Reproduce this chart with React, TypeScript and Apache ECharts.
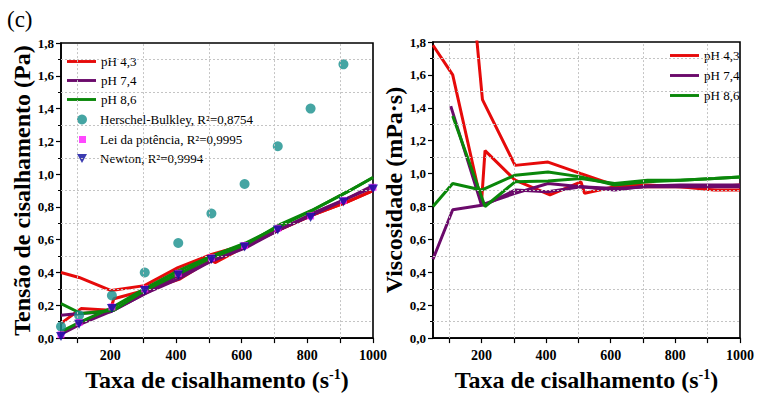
import { useEffect, useRef } from "react";
import * as echarts from "echarts";

const FONT = "'Liberation Serif', 'DejaVu Serif', serif";

const RED = "#e60a0a";
const PURPLE = "#6b0a6b";
const GREEN = "#0a870a";
const TEAL = "#178f8c";
const MAGENTA = "#ff1aff";
const NAVY = "#0a0a9c";

// Axis ticks / labels / grid positions
const xTickValues = [100, 200, 300, 400, 500, 600, 700, 800, 900, 1000];
const xLabelValues = [200, 400, 600, 800, 1000];
const xGridValues = [100, 300, 500, 700, 900];
const yGridValues = [0.1, 0.3, 0.5, 0.7, 0.9, 1.1, 1.3, 1.5, 1.7];

// Shear stress (Pa) vs shear rate (1/s)
const stRateRedA = [50, 111, 200, 211, 304, 412, 508, 519, 612, 714, 815, 920, 1000];
const stRedA = [0.09, 0.18, 0.17, 0.24, 0.29, 0.36, 0.48, 0.46, 0.56, 0.66, 0.75, 0.83, 0.9];
const stRateRedB = [50, 105, 203, 304, 406, 508, 612, 714, 815, 920, 1000];
const stRedB = [0.4, 0.37, 0.29, 0.32, 0.43, 0.51, 0.57, 0.66, 0.75, 0.83, 0.9];
const stRatePurA = [50, 105, 200, 304, 406, 508, 612, 714, 815, 920, 1000];
const stPurA = [0.14, 0.15, 0.16, 0.27, 0.38, 0.47, 0.55, 0.66, 0.76, 0.85, 0.93];
const stRatePurB = [50, 111, 211, 304, 406, 508, 612, 714, 815, 920, 1000];
const stPurB = [0.024, 0.087, 0.17, 0.27, 0.36, 0.47, 0.56, 0.66, 0.75, 0.85, 0.92];
const stRateGreA = [50, 111, 200, 304, 406, 508, 612, 714, 815, 920, 1000];
const stGreA = [0.04, 0.1, 0.18, 0.3, 0.41, 0.5, 0.58, 0.68, 0.78, 0.89, 0.98];
const stRateGreB = [50, 111, 211, 304, 406, 508, 612, 714, 815, 920, 1000];
const stGreB = [0.21, 0.15, 0.17, 0.29, 0.39, 0.49, 0.57, 0.69, 0.78, 0.89, 0.98];

// Model fits
const fitRateHB = [50, 105, 205, 305, 407, 508, 609, 710, 810, 910];
const fitHB = [0.07, 0.14, 0.26, 0.4, 0.58, 0.76, 0.94, 1.17, 1.4, 1.67];
const fitRate = [50, 105, 205, 305, 407, 508, 609, 710, 810, 910, 1000];
const fitPower = [0.02, 0.095, 0.19, 0.3, 0.395, 0.49, 0.565, 0.67, 0.745, 0.84, 0.92];
const fitNewton = [0.01, 0.085, 0.18, 0.29, 0.385, 0.48, 0.555, 0.66, 0.735, 0.83, 0.91];

// Viscosity (mPa·s) vs shear rate (1/s)
const viRateRedA = [50, 111, 200, 211, 304, 412, 508, 519, 612, 714, 815, 920, 1000];
const viRedA = [1.78, 1.6, 0.82, 1.14, 0.96, 0.87, 0.95, 0.88, 0.92, 0.92, 0.92, 0.92, 0.93];
const viRateRedB = [50, 105, 203, 304, 406, 508, 612, 714, 815, 920, 1000];
const viRedB = [8.0, 3.5, 1.45, 1.05, 1.07, 1.0, 0.93, 0.93, 0.92, 0.9, 0.9];
const viRatePurA = [105, 200, 304, 406, 508, 612, 714, 815, 920, 1000];
const viPurA = [1.41, 0.81, 0.88, 0.94, 0.92, 0.9, 0.925, 0.93, 0.93, 0.93];
const viRatePurB = [50, 111, 211, 304, 406, 508, 612, 714, 815, 920, 1000];
const viPurB = [0.48, 0.78, 0.81, 0.9, 0.89, 0.92, 0.91, 0.92, 0.92, 0.92, 0.92];
const viRateGreA = [50, 111, 200, 304, 406, 508, 612, 714, 815, 920, 1000];
const viGreA = [0.8, 0.94, 0.9, 0.99, 1.01, 0.98, 0.93, 0.95, 0.96, 0.97, 0.98];
const viRateGreB = [111, 211, 304, 406, 508, 612, 714, 815, 920, 1000];
const viGreB = [1.35, 0.8, 0.95, 0.955, 0.97, 0.94, 0.96, 0.96, 0.97, 0.98];

const NAME_43 = "pH 4,3";
const NAME_74 = "pH 7,4";
const NAME_86 = "pH 8,6";
const NAME_HB = "Herschel-Bulkley, R²=0,8754";
const NAME_PW = "Lei da potência, R²=0,9995";
const NAME_NW = "Newton, R²=0,9994";

const LINE_ICON = "path://M0,0H30V3H0Z";
const SQUARE_ICON = "path://M0,0H10V10H0Z";
const DOWN_TRIANGLE_ICON = "path://M0,0H10L5,9Z";

const zip = (xs: number[], ys: number[]) => xs.map((x, i) => [x, ys[i]]);

const gridLineStyle = { type: [2, 2] as number[], color: "#c4c4c4", width: 1 };

function gridSeries(idx: number) {
  return {
    type: "line",
    xAxisIndex: idx,
    yAxisIndex: idx,
    data: [],
    z: 1,
    silent: true,
    markLine: {
      silent: true,
      symbol: ["none", "none"],
      label: { show: false },
      lineStyle: gridLineStyle,
      animation: false,
      data: [
        ...xGridValues.map((v) => ({ xAxis: v })),
        ...yGridValues.map((v) => ({ yAxis: v })),
      ],
    },
  };
}

function lineSeries(idx: number, name: string, color: string, data: number[][]) {
  return {
    type: "line",
    name,
    xAxisIndex: idx,
    yAxisIndex: idx,
    data,
    symbol: "none",
    showSymbol: false,
    clip: true,
    z: 3,
    color,
    itemStyle: { color },
    lineStyle: { color, width: 3 },
  };
}

function xAxisCfg(idx: number) {
  return {
    type: "value",
    gridIndex: idx,
    min: 50,
    max: 1000,
    axisLine: { show: true, onZero: false, lineStyle: { color: "#000", width: 1.6 } },
    axisTick: {
      show: true,
      inside: false,
      length: 5,
      customValues: xTickValues,
      lineStyle: { color: "#000", width: 1.2 },
    },
    axisLabel: {
      customValues: xLabelValues,
      margin: 10,
      fontFamily: FONT,
      fontWeight: "bold",
      fontSize: 14,
      color: "#000",
      formatter: (v: number) => String(v),
    },
    splitLine: { show: false },
    name: "Taxa de cisalhamento (s{sup|-1})",
    nameLocation: "middle",
    nameGap: 27,
    nameTextStyle: {
      fontFamily: FONT,
      fontWeight: "bold",
      fontSize: 24,
      color: "#000",
      lineHeight: 26,
      rich: {
        sup: {
          fontFamily: FONT,
          fontWeight: "bold",
          fontSize: 14,
          lineHeight: 14,
          verticalAlign: "top",
          color: "#000",
        },
      },
    },
  };
}

function yAxisCfg(idx: number, name: string, gap: number) {
  return {
    type: "value",
    gridIndex: idx,
    min: 0,
    max: 1.8,
    interval: 0.2,
    axisLine: { show: true, onZero: false, lineStyle: { color: "#000", width: 1.6 } },
    axisTick: { show: true, inside: false, length: 5, lineStyle: { color: "#000", width: 1.2 } },
    minorTick: { show: true, splitNumber: 2, length: 3, lineStyle: { color: "#000", width: 1 } },
    axisLabel: {
      margin: 7,
      fontFamily: FONT,
      fontWeight: "bold",
      fontSize: 13,
      color: "#000",
      formatter: (v: number) => v.toFixed(1).replace(".", ","),
    },
    splitLine: { show: false },
    name,
    nameLocation: "middle",
    nameGap: gap,
    nameTextStyle: { fontFamily: FONT, fontWeight: "bold", fontSize: 24, color: "#000" },
  };
}

const legendText = { fontFamily: FONT, fontSize: 13, color: "#000" };

function legendBlock(left: number, top: number, w: number, h: number, gap: number, data: any[], textPad = 0) {
  return {
    orient: "vertical",
    left,
    top,
    padding: 0,
    itemWidth: w,
    itemHeight: h,
    itemGap: gap,
    selectedMode: false,
    symbolKeepAspect: true,
    textStyle: { ...legendText, padding: [0, 0, 0, textPad] },
    data,
  };
}

export default function App() {
  const ref = useRef<HTMLDivElement>(null);

  useEffect(() => {
    if (!ref.current) return;
    const chart = echarts.init(ref.current, undefined, { renderer: "svg" });

    const option = {
      animation: false,
      backgroundColor: "#fff",
      textStyle: { fontFamily: FONT },
      graphic: [
        {
          type: "text",
          left: 7,
          top: 8,
          style: { text: "(c)", fontFamily: FONT, fontSize: 23, fill: "#000" },
        },
      ],
      grid: [
        { left: 61, top: 43, width: 312, height: 300, show: true, borderColor: "#000", borderWidth: 1.6, backgroundColor: "transparent" },
        { left: 433, top: 42, width: 310, height: 300, show: true, borderColor: "#000", borderWidth: 1.6, backgroundColor: "transparent" },
      ],
      xAxis: [xAxisCfg(0), xAxisCfg(1)],
      yAxis: [yAxisCfg(0, "Tensão de cisalhamento (Pa)", 24), yAxisCfg(1, "Viscosidade (mPa·s)", 26)],
      legend: [
        legendBlock(67, 55, 29, 3, 6, [
          { name: NAME_43, icon: LINE_ICON },
          { name: NAME_74, icon: LINE_ICON },
          { name: NAME_86, icon: LINE_ICON },
        ]),
        legendBlock(77, 113, 10, 10, 6, [{ name: NAME_HB, icon: "circle" }], 8),
        legendBlock(79, 133, 7, 7, 6, [{ name: NAME_PW, icon: SQUARE_ICON }], 9),
        legendBlock(77, 152, 10, 9, 6, [{ name: NAME_NW, icon: DOWN_TRIANGLE_ICON }], 8),
        legendBlock(670, 49, 29, 3, 7, [
          { name: NAME_43, icon: LINE_ICON },
          { name: NAME_74, icon: LINE_ICON },
          { name: NAME_86, icon: LINE_ICON },
        ]),
      ],
      series: [
        gridSeries(0),
        gridSeries(1),
        lineSeries(0, NAME_43, RED, zip(stRateRedA, stRedA)),
        lineSeries(0, NAME_43, RED, zip(stRateRedB, stRedB)),
        lineSeries(0, NAME_74, PURPLE, zip(stRatePurA, stPurA)),
        lineSeries(0, NAME_74, PURPLE, zip(stRatePurB, stPurB)),
        lineSeries(0, NAME_86, GREEN, zip(stRateGreA, stGreA)),
        lineSeries(0, NAME_86, GREEN, zip(stRateGreB, stGreB)),
        {
          type: "scatter",
          name: NAME_HB,
          xAxisIndex: 0,
          yAxisIndex: 0,
          data: zip(fitRateHB, fitHB),
          symbol: "circle",
          symbolSize: 10,
          itemStyle: { color: TEAL },
          z: 4,
        },
        {
          type: "scatter",
          name: NAME_PW,
          xAxisIndex: 0,
          yAxisIndex: 0,
          data: zip(fitRate, fitPower),
          symbol: "rect",
          symbolSize: 7,
          itemStyle: { color: MAGENTA },
          z: 4,
        },
        {
          type: "scatter",
          name: NAME_NW,
          xAxisIndex: 0,
          yAxisIndex: 0,
          data: zip(fitRate, fitNewton),
          symbol: "triangle",
          symbolRotate: 180,
          symbolSize: [10, 9],
          itemStyle: { color: NAVY },
          z: 5,
        },
        lineSeries(1, NAME_43, RED, zip(viRateRedA, viRedA)),
        lineSeries(1, NAME_43, RED, zip(viRateRedB, viRedB)),
        lineSeries(1, NAME_74, PURPLE, zip(viRatePurA, viPurA)),
        lineSeries(1, NAME_74, PURPLE, zip(viRatePurB, viPurB)),
        lineSeries(1, NAME_86, GREEN, zip(viRateGreA, viGreA)),
        lineSeries(1, NAME_86, GREEN, zip(viRateGreB, viGreB)),
      ],
    };

    chart.setOption(option as any);
    return () => chart.dispose();
  }, []);

  return (
    <div
      ref={ref}
      style={{ position: "fixed", left: 0, top: 0, width: 757, height: 398, background: "#fff" }}
    />
  );
}
